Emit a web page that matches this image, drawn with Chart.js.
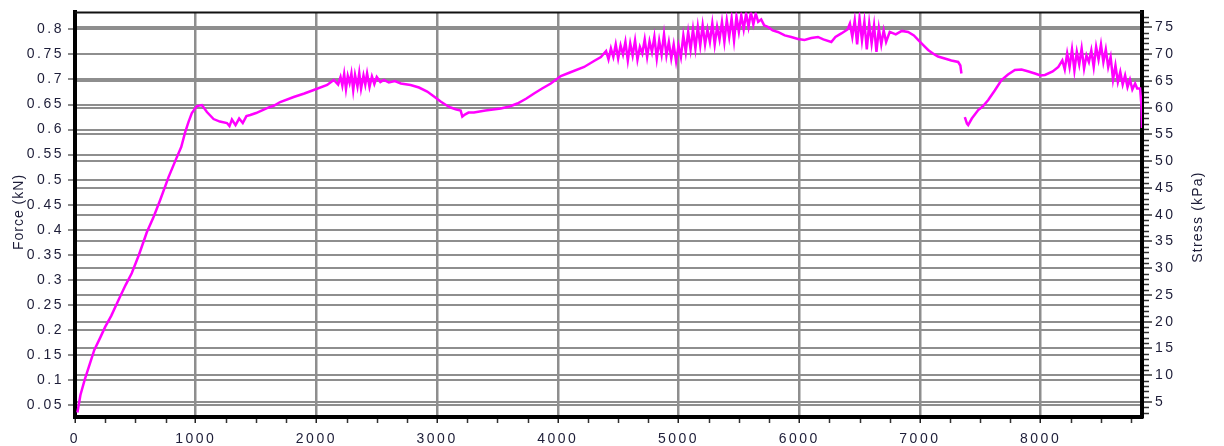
<!DOCTYPE html>
<html>
<head>
<meta charset="utf-8">
<script src="https://cdn.jsdelivr.net/npm/chart.js@4.4.1/dist/chart.umd.min.js"></script>
<style>
  html, body { margin: 0; padding: 0; background: #fff; }
  canvas { display: block; }
</style>
</head>
<body>
<canvas id="c" width="1224" height="446"></canvas>
<script>
// Force vs displacement record, split into the parts of the test.
// Initial loading ramp
const rampDisp  = [20, 45, 80, 120, 160, 210, 250, 300, 373, 420, 470, 530, 595, 650, 705, 775, 844, 880, 913, 940, 968, 1010, 1051];
const rampForce = [0.035, 0.07, 0.10, 0.13, 0.16, 0.185, 0.206, 0.228, 0.266, 0.29, 0.313, 0.35, 0.395, 0.425, 0.459, 0.505, 0.545, 0.565, 0.595, 0.615, 0.633, 0.647, 0.649];

// First yield dip and hump
const humpDisp  = [1093, 1148, 1200, 1259, 1280, 1300, 1330, 1360, 1390, 1420, 1452, 1500, 1591, 1650, 1700, 1812, 1900, 1978, 2089, 2144,
                   2180, 2200, 2215, 2230, 2245, 2260, 2275, 2290, 2305, 2320, 2340, 2355, 2370, 2390, 2405, 2420, 2440, 2460, 2480, 2500,
                   2530, 2559, 2600, 2650, 2700, 2780, 2850, 2918, 2980];
const humpForce = [0.635, 0.621, 0.616, 0.613, 0.607, 0.620, 0.609, 0.622, 0.613, 0.627, 0.629, 0.633, 0.643, 0.648, 0.655, 0.665, 0.672, 0.679, 0.689, 0.699,
                   0.690, 0.705, 0.688, 0.711, 0.681, 0.707, 0.693, 0.712, 0.679, 0.709, 0.686, 0.713, 0.682, 0.708, 0.690, 0.712, 0.685, 0.706, 0.691, 0.705,
                   0.695, 0.699, 0.694, 0.697, 0.692, 0.689, 0.684, 0.676, 0.665];

// Valley and second climb
const climbDisp  = [3029, 3080, 3112, 3160, 3195, 3209, 3230, 3260, 3305, 3400, 3527, 3600, 3665, 3740, 3803, 3870, 3942, 4025, 4100, 4218, 4300, 4357];
const climbForce = [0.656, 0.648, 0.644, 0.640, 0.638, 0.626, 0.630, 0.634, 0.634, 0.638, 0.642, 0.646, 0.652, 0.662, 0.672, 0.682, 0.692, 0.707, 0.714, 0.725, 0.737, 0.745];

// Peak region with stick-slip oscillation
const peakDisp  = [4400, 4420, 4440, 4460, 4480, 4500, 4520, 4540, 4560, 4580,
                   4600, 4620, 4640, 4660, 4680, 4700, 4720, 4740, 4760, 4780,
                   4800, 4820, 4840, 4860, 4880, 4900, 4920, 4940, 4960, 4980,
                   5000, 5020, 5040, 5060, 5080, 5100, 5120, 5140, 5160, 5180,
                   5200, 5220, 5240, 5260, 5280, 5300, 5320, 5340, 5360, 5380,
                   5400, 5420, 5440, 5460, 5480, 5500, 5520, 5540, 5560, 5580,
                   5600, 5620, 5640, 5660,
                   5685, 5710, 5740, 5780, 5823, 5880, 5934, 5990, 6044, 6100, 6155, 6200, 6266, 6300, 6349, 6400];
const peakForce = [0.757, 0.740, 0.762, 0.745, 0.770, 0.742, 0.768, 0.750, 0.775, 0.738,
                   0.772, 0.748, 0.778, 0.740, 0.765, 0.752, 0.780, 0.745, 0.776, 0.755,
                   0.785, 0.742, 0.778, 0.750, 0.790, 0.748, 0.775, 0.742, 0.770, 0.736,
                   0.768, 0.745, 0.788, 0.755, 0.795, 0.760, 0.800, 0.762, 0.805, 0.768,
                   0.808, 0.770, 0.800, 0.775, 0.812, 0.770, 0.805, 0.780, 0.815, 0.775,
                   0.818, 0.785, 0.822, 0.778, 0.826, 0.795, 0.828, 0.800, 0.832, 0.805,
                   0.834, 0.810, 0.832, 0.815,
                   0.820, 0.808, 0.805, 0.798, 0.795, 0.788, 0.785, 0.781, 0.779, 0.783, 0.785, 0.780, 0.775, 0.785, 0.792, 0.800];

// Second oscillating hump and unloading before the break
const tailDisp  = [6420, 6440, 6460, 6480, 6500, 6520, 6540, 6560, 6580, 6600, 6620, 6640, 6660, 6680, 6700, 6720,
                   6750, 6800, 6850, 6902, 6950, 6985, 7030, 7068, 7120, 7150, 7206, 7260, 7317, 7335, 7344];
const tailForce = [0.812, 0.785, 0.818, 0.770, 0.822, 0.778, 0.815, 0.760, 0.812, 0.772, 0.808, 0.755, 0.802, 0.770, 0.798, 0.775,
                   0.795, 0.790, 0.797, 0.795, 0.788, 0.779, 0.768, 0.759, 0.750, 0.746, 0.742, 0.738, 0.735, 0.728, 0.712];

// Reloading after the interruption
const reloadDisp  = [7372, 7390, 7400, 7430, 7483, 7520, 7566, 7620, 7676, 7730, 7787, 7842, 7900, 7953, 8000, 8036, 8100, 8147, 8180, 8200,
                     8220, 8240, 8260, 8280, 8300, 8320, 8340, 8360, 8380, 8400, 8420, 8440, 8460, 8480, 8500, 8520, 8540, 8560, 8580, 8600,
                     8620, 8640, 8660, 8680, 8700, 8720, 8740, 8760, 8783, 8800, 8824, 8835, 8840];
const reloadForce = [0.625, 0.612, 0.609, 0.622, 0.639, 0.646, 0.659, 0.678, 0.699, 0.710, 0.719, 0.720, 0.716, 0.712, 0.708, 0.709, 0.716, 0.725, 0.738, 0.720,
                     0.752, 0.725, 0.760, 0.718, 0.755, 0.730, 0.762, 0.722, 0.748, 0.735, 0.758, 0.725, 0.765, 0.740, 0.770, 0.735, 0.760, 0.725, 0.745, 0.700,
                     0.728, 0.695, 0.715, 0.690, 0.708, 0.685, 0.700, 0.680, 0.692, 0.682, 0.682, 0.650, 0.603];

// Position of the break in the record
const breakDisp = 7358;

// Axis ticks
const dispTicks = [0, 1000, 2000, 3000, 4000, 5000, 6000, 7000, 8000];
const forceTickLabels = ['0.05', '0.1', '0.15', '0.2', '0.25', '0.3', '0.35', '0.4', '0.45', '0.5', '0.55', '0.6', '0.65', '0.7', '0.75', '0.8'];
const stressTickLabels = ['5', '10', '15', '20', '25', '30', '35', '40', '45', '50', '55', '60', '65', '70', '75'];

// Build the point list; a null point leaves the gap at the break
function pairs(xs, ys) { return xs.map((x, i) => ({ x: x, y: ys[i] })); }
const points = [].concat(
  pairs(rampDisp, rampForce),
  pairs(humpDisp, humpForce),
  pairs(climbDisp, climbForce),
  pairs(peakDisp, peakForce),
  pairs(tailDisp, tailForce),
  [{ x: breakDisp, y: null }],
  pairs(reloadDisp, reloadForce)
);

const FONT = "'Liberation Sans', Arial, sans-serif";
const INK = '#1d1d38';
const GRID = '#8e8e8e';

const forceTicks = forceTickLabels.map(Number);
const stressTicks = stressTickLabels.map(Number);

// Wide tick lettering
const spacingPlugin = {
  id: 'spacing',
  beforeDraw(chart) { chart.ctx.letterSpacing = '2.5px'; },
  afterDraw(chart) { chart.ctx.letterSpacing = '0px'; }
};

// Top edge of the plot frame
const framePlugin = {
  id: 'frame',
  beforeDatasetsDraw(chart) {
    const { ctx, chartArea: a } = chart;
    ctx.save();
    ctx.strokeStyle = '#111';
    ctx.lineWidth = 2;
    ctx.beginPath();
    ctx.moveTo(a.left, a.top);
    ctx.lineTo(a.right, a.top);
    ctx.stroke();
    ctx.restore();
  }
};

// Minor tick marks on the bottom and right axes, plus the rotated axis titles
const decorPlugin = {
  id: 'decor',
  afterDraw(chart) {
    const { ctx, chartArea: a } = chart;
    const xs = chart.scales.x, ys = chart.scales.y2;
    ctx.save();
    ctx.strokeStyle = '#333';
    ctx.lineWidth = 1.5;
    ctx.beginPath();
    for (let v = 250; v < xs.max; v += 250) {
      if (v % 1000 === 0) continue;
      const px = Math.round(xs.getPixelForValue(v)) + 0.5;
      ctx.moveTo(px, a.bottom + 2);
      ctx.lineTo(px, a.bottom + 6);
    }
    for (let v = Math.ceil(ys.min); v <= ys.max; v += 1) {
      if (v % 5 === 0) continue;
      const py = Math.round(ys.getPixelForValue(v)) + 0.5;
      ctx.moveTo(a.right + 2, py);
      ctx.lineTo(a.right + 7, py);
    }
    ctx.stroke();

    ctx.fillStyle = INK;
    ctx.font = '14px ' + FONT;
    ctx.textAlign = 'center';
    ctx.textBaseline = 'middle';
    ctx.letterSpacing = '1px';
    ctx.save();
    ctx.translate(19, 212);
    ctx.rotate(-Math.PI / 2);
    ctx.fillText('Force (kN)', 0, 0);
    ctx.restore();
    ctx.letterSpacing = '1.2px';
    ctx.save();
    ctx.translate(1198, 217);
    ctx.rotate(-Math.PI / 2);
    ctx.fillText('Stress (kPa)', 0, 0);
    ctx.restore();
    ctx.restore();
  }
};

new Chart(document.getElementById('c'), {
  type: 'line',
  data: {
    datasets: [{
      data: points,
      yAxisID: 'y',
      borderColor: '#ff00ff',
      borderWidth: 2.5,
      pointRadius: 0,
      tension: 0,
      spanGaps: false
    }]
  },
  options: {
    responsive: false,
    animation: false,
    devicePixelRatio: 1,
    layout: { padding: { top: 12, left: 0, right: 0, bottom: 0 } },
    plugins: { legend: { display: false }, tooltip: { enabled: false } },
    scales: {
      x: {
        type: 'linear',
        min: 0,
        max: 8840,
        afterBuildTicks: s => { s.ticks = dispTicks.map(v => ({ value: v })); },
        afterFit: s => { s.height = 29; },
        ticks: { font: { family: FONT, size: 14 }, color: INK, padding: 8, maxRotation: 0, autoSkip: false, callback: v => String(v) },
        grid: { color: GRID, lineWidth: 2.5, tickLength: 6, tickColor: '#222', tickWidth: 1.5 },
        border: { color: '#000', width: 4 }
      },
      y: {
        type: 'linear',
        position: 'left',
        min: 0.026,
        max: 0.834,
        afterBuildTicks: s => { s.ticks = forceTicks.map(v => ({ value: v })); },
        afterFit: s => { s.width = 75; },
        ticks: { font: { family: FONT, size: 14 }, color: INK, padding: 4, autoSkip: false, callback: (v, i) => forceTickLabels[i] },
        grid: { color: GRID, lineWidth: 2, tickLength: 7, tickColor: '#666', tickWidth: 1.5 },
        border: { color: '#000', width: 4 }
      },
      y2: {
        type: 'linear',
        position: 'right',
        min: 2.2,
        max: 77.8,
        afterBuildTicks: s => { s.ticks = stressTicks.map(v => ({ value: v })); },
        afterFit: s => { s.width = 82; },
        ticks: { font: { family: FONT, size: 14 }, color: INK, padding: 3, autoSkip: false, callback: (v, i) => stressTickLabels[i] },
        grid: { color: GRID, lineWidth: 2, tickLength: 10, tickColor: '#333', tickWidth: 1.5 },
        border: { color: '#000', width: 4 }
      }
    }
  },
  plugins: [spacingPlugin, framePlugin, decorPlugin]
});
</script>
</body>
</html>
